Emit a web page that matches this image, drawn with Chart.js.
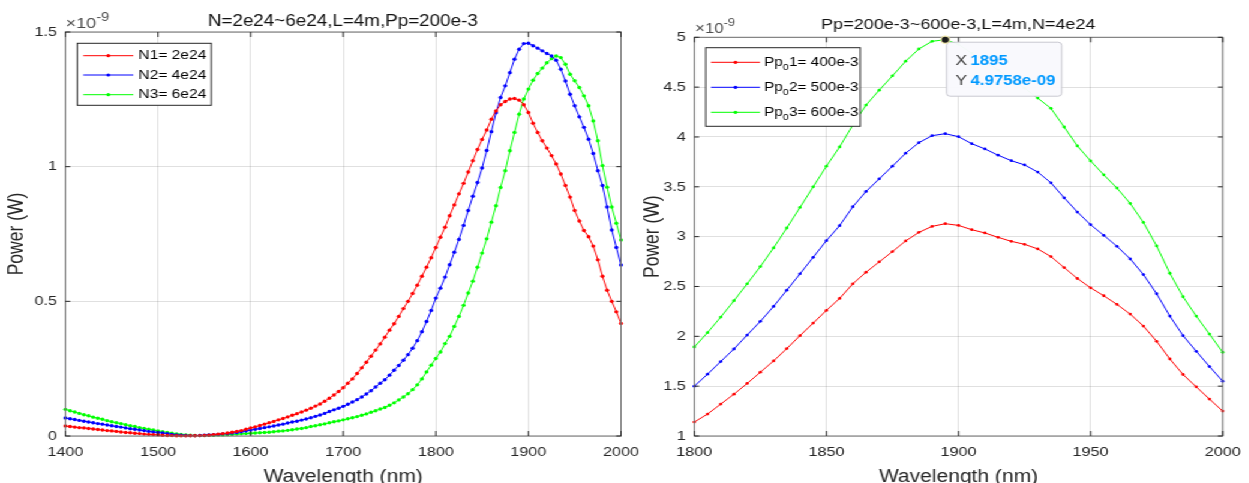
<!DOCTYPE html>
<html>
<head>
<meta charset="utf-8">
<title>Power vs wavelength</title>
<script src="https://cdn.jsdelivr.net/npm/chart.js@4"></script>
<style>
html, body { margin: 0; padding: 0; background: #fff; overflow: hidden; }
/* the source figure is stretched horizontally, so the charts are drawn narrow and widened */
#wrap { position: absolute; left: 0; top: 0; width: 1041px; height: 483px; transform: scaleX(1.2); transform-origin: 0 0; }
#c1 { position: absolute; left: 0; top: 0; }
#c2 { position: absolute; left: 533px; top: 0; }
</style>
</head>
<body>
<div id="wrap">
  <canvas id="c1" width="533" height="483"></canvas>
  <canvas id="c2" width="508" height="483"></canvas>
</div>
<script>
// left plot: wavelength (nm) and power (x1e-9 W)
const wl1 = [1400,1405,1410,1415,1420,1425,1430,1435,1440,1445,1450,1455,1460,1465,1470,1475,1480,1485,1490,1495,
  1500,1505,1510,1515,1520,1525,1530,1535,1540,1545,1550,1555,1560,1565,1570,1575,1580,1585,1590,1595,
  1600,1605,1610,1615,1620,1625,1630,1635,1640,1645,1650,1655,1660,1665,1670,1675,1680,1685,1690,1695,
  1700,1705,1710,1715,1720,1725,1730,1735,1740,1745,1750,1755,1760,1765,1770,1775,1780,1785,1790,1795,
  1800,1805,1810,1815,1820,1825,1830,1835,1840,1845,1850,1855,1860,1865,1870,1875,1880,1885,1890,1895,
  1900,1905,1910,1915,1920,1925,1930,1935,1940,1945,1950,1955,1960,1965,1970,1975,1980,1985,1990,1995,2000];

const powN1 = [.037,.035,.033,.031,.030,.028,.026,.024,.022,.020,.019,.017,.015,.013,.012,.010,.009,.007,.006,.005,
  .004,.003,.002,.0015,.001,.0006,.0005,.0007,.001,.0015,.002,.003,.005,.007,.009,.011,.014,.017,.020,.025,
  .030,.034,.039,.044,.049,.054,.060,.065,.071,.077,.083,.089,.096,.103,.111,.119,.129,.140,.152,.165,
  .179,.196,.212,.232,.253,.274,.296,.319,.342,.367,.393,.417,.444,.473,.500,.529,.560,.593,.627,.662,
  .700,.738,.775,.818,.858,.899,.938,.980,1.022,1.064,1.101,1.136,1.176,1.207,1.230,1.242,1.251,1.253,1.247,1.230,
  1.201,1.161,1.127,1.096,1.069,1.041,1.010,.973,.930,.887,.837,.798,.763,.740,.705,.654,.593,.541,.500,.461,.418];

const powN2 = [.067,.064,.061,.058,.055,.052,.049,.046,.044,.041,.038,.035,.033,.030,.027,.025,.022,.020,.017,.015,
  .013,.011,.009,.006,.004,.003,.002,.0015,.0015,.002,.003,.004,.005,.006,.008,.009,.011,.013,.016,.019,
  .022,.025,.028,.031,.034,.037,.041,.044,.048,.052,.055,.059,.063,.068,.073,.078,.084,.091,.097,.103,
  .110,.118,.126,.135,.145,.156,.168,.182,.196,.209,.226,.244,.262,.281,.302,.326,.354,.387,.425,.466,
  .512,.549,.590,.636,.682,.730,.782,.837,.890,.941,.995,1.060,1.130,1.200,1.257,1.300,1.349,1.399,1.436,1.457,
  1.458,1.449,1.440,1.430,1.420,1.411,1.395,1.362,1.318,1.269,1.226,1.185,1.146,1.102,1.049,.985,.930,.850,.765,.700,.635];

const powN3 = [.099,.094,.089,.084,.079,.075,.070,.066,.062,.057,.053,.049,.046,.042,.038,.035,.031,.028,.025,.022,
  .019,.016,.013,.010,.008,.006,.004,.003,.002,.002,.002,.003,.003,.004,.004,.005,.006,.007,.008,.009,
  .010,.011,.012,.013,.014,.016,.018,.019,.021,.023,.026,.028,.031,.035,.038,.042,.045,.049,.053,.056,
  .060,.064,.068,.072,.077,.082,.088,.094,.100,.106,.114,.123,.134,.145,.157,.172,.190,.212,.238,.263,
  .288,.312,.343,.370,.407,.444,.485,.531,.575,.627,.679,.732,.794,.855,.923,.985,1.059,1.127,1.195,1.251,
  1.288,1.321,1.346,1.366,1.386,1.401,1.411,1.405,1.380,1.343,1.319,1.294,1.263,1.226,1.170,1.096,1.004,.924,.850,.790,.728];

const legend1 = ['N1= 2e24', 'N2= 4e24', 'N3= 6e24'];
const xTicks1 = [1400, 2000, 100];
const yTicks1 = [0, 1.5, 0.5];

// right plot
const wl2 = [1800,1805,1810,1815,1820,1825,1830,1835,1840,1845,1850,1855,1860,1865,1870,1875,1880,1885,1890,1895,
  1900,1905,1910,1915,1920,1925,1930,1935,1940,1945,1950,1955,1960,1965,1970,1975,1980,1985,1990,1995,2000];

const powP1 = [1.14,1.22,1.32,1.42,1.527,1.64,1.753,1.877,2.007,2.133,2.26,2.38,2.527,2.643,2.747,2.85,2.957,3.043,3.103,3.13,
  3.113,3.07,3.037,2.993,2.953,2.923,2.877,2.8,2.69,2.58,2.487,2.407,2.32,2.223,2.103,1.95,1.773,1.617,1.493,1.37,1.25];

const powP2 = [1.5,1.62,1.747,1.873,2.013,2.15,2.3,2.463,2.627,2.793,2.96,3.11,3.3,3.453,3.58,3.707,3.837,3.943,4.013,4.033,
  4.003,3.933,3.88,3.817,3.762,3.72,3.648,3.54,3.39,3.247,3.12,3.013,2.903,2.777,2.62,2.427,2.203,2.007,1.85,1.697,1.55];

const powP3 = [1.893,2.037,2.193,2.357,2.527,2.7,2.887,3.087,3.293,3.5,3.707,3.9,4.12,4.32,4.47,4.613,4.76,4.883,4.96,4.9758,
  4.93,4.84,4.76,4.67,4.58,4.49,4.39,4.287,4.1,3.91,3.76,3.62,3.487,3.333,3.143,2.907,2.633,2.397,2.203,2.023,1.84];

const legend2 = ['Pp_01= 400e-3', 'Pp_02= 500e-3', 'Pp_03= 600e-3'];
const xTicks2 = [1800, 2000, 50];
const yTicks2 = [1, 5, 0.5];
const tipWl = 1895;

const FONT = '"Liberation Sans", Arial, Helvetica, sans-serif';
const colores = ['#ff0000', '#0000ff', '#00ff00'];
Chart.defaults.font.family = FONT;

function fnt(size, bold) {
    return (bold ? 'bold ' : '') + size + 'px ' + FONT;
}

// MATLAB style number for the datatip: 4.9758e-09
function formatoExp(v) {
    return v.toExponential(4).replace(/e([+-])(\d)$/, 'e$10$2');
}

// text with "_0" read as a subscript, like the TeX legend
function textoSub(ctx, txt, x, y, size) {
    const partes = txt.split('_');
    ctx.font = fnt(size);
    ctx.fillText(partes[0], x, y);
    x += ctx.measureText(partes[0]).width;
    if (partes.length > 1) {
        ctx.font = fnt(size * 0.72);
        ctx.fillText(partes[1][0], x, y + size * 0.38);
        x += ctx.measureText(partes[1][0]).width;
        ctx.font = fnt(size);
        ctx.fillText(partes[1].slice(1), x, y);
    }
}

const deco = {
    id: 'deco',
    afterDraw(chart, args, o) {
        const ctx = chart.ctx;
        const a = chart.chartArea;
        const sx = chart.scales.x, sy = chart.scales.y;
        ctx.save();

        // axes box with ticks pointing inwards
        ctx.strokeStyle = '#6e6e6e';
        ctx.lineWidth = 1;
        ctx.strokeRect(a.left, a.top, a.right - a.left, a.bottom - a.top);
        ctx.strokeStyle = '#262626';
        ctx.beginPath();
        sx.ticks.forEach(t => {
            const px = sx.getPixelForValue(t.value);
            ctx.moveTo(px, a.bottom); ctx.lineTo(px, a.bottom - 5);
            ctx.moveTo(px, a.top); ctx.lineTo(px, a.top + 5);
        });
        sy.ticks.forEach(t => {
            const py = sy.getPixelForValue(t.value);
            ctx.moveTo(a.left, py); ctx.lineTo(a.left + 4, py);
            ctx.moveTo(a.right, py); ctx.lineTo(a.right - 4, py);
        });
        ctx.stroke();

        // title
        ctx.fillStyle = '#111';
        ctx.font = fnt(o.titleSize);
        ctx.textAlign = 'center';
        ctx.textBaseline = 'alphabetic';
        ctx.fillText(o.title, o.titleX, o.titleY);

        // x10^-9 multiplier
        ctx.fillStyle = '#4d4d4d';
        ctx.textAlign = 'left';
        ctx.font = fnt(o.expSize);
        ctx.fillText('\u00d710', o.expX, o.expY);
        const w = ctx.measureText('\u00d710').width;
        ctx.font = fnt(o.expSize - 3);
        ctx.fillText('-9', o.expX + w, o.expY - 7);

        // axis labels
        ctx.fillStyle = '#262626';
        ctx.font = fnt(17.5);
        ctx.textAlign = 'center';
        ctx.fillText('Wavelength (nm)', (a.left + a.right) / 2, 482);
        ctx.save();
        ctx.translate(o.ylabelX, (a.top + a.bottom) / 2);
        ctx.rotate(-Math.PI / 2);
        ctx.textBaseline = 'middle';
        ctx.fillText('Power (W)', 0, 0);
        ctx.restore();

        // legend
        const L = o.legend;
        ctx.fillStyle = '#fff';
        ctx.fillRect(L.box[0], L.box[1], L.box[2] - L.box[0], L.box[3] - L.box[1]);
        ctx.strokeStyle = '#262626';
        ctx.lineWidth = 1;
        ctx.strokeRect(L.box[0], L.box[1], L.box[2] - L.box[0], L.box[3] - L.box[1]);
        ctx.textAlign = 'left';
        ctx.textBaseline = 'middle';
        L.rows.forEach((ry, i) => {
            ctx.strokeStyle = colores[i];
            ctx.beginPath();
            ctx.moveTo(L.x1, ry); ctx.lineTo(L.x2, ry);
            ctx.stroke();
            ctx.fillStyle = colores[i];
            ctx.beginPath();
            ctx.arc((L.x1 + L.x2) / 2, ry, 1.6, 0, Math.PI * 2);
            ctx.fill();
            ctx.fillStyle = '#000';
            textoSub(ctx, L.labels[i], L.tx, ry, L.size);
        });

        // datatip
        if (o.tip) {
            const T = o.tip;
            const px = sx.getPixelForValue(T.x), py = sy.getPixelForValue(T.y);
            ctx.fillStyle = 'rgba(249,249,253,0.97)';
            ctx.strokeStyle = '#c8c8d0';
            ctx.beginPath();
            ctx.roundRect(px + 1, py + 2.5, 96, 54, 3);
            ctx.fill();
            ctx.stroke();
            ctx.textBaseline = 'alphabetic';
            ctx.fillStyle = '#404040';
            ctx.font = fnt(14.5);
            ctx.fillText('X', px + 8.5, py + 25.5);
            ctx.fillText('Y', px + 8.5, py + 45.5);
            ctx.fillStyle = 'rgb(0,153,255)';
            ctx.font = fnt(14, true);
            ctx.fillText(String(T.x), px + 21, py + 25.5);
            ctx.fillText(formatoExp(T.y * 1e-9), px + 21, py + 45.5);
            ctx.fillStyle = '#1a1a1a';
            ctx.strokeStyle = '#f3eab0';
            ctx.lineWidth = 1.2;
            ctx.beginPath();
            ctx.arc(px, py, 3.6, 0, Math.PI * 2);
            ctx.fill();
            ctx.stroke();
        }
        ctx.restore();
    }
};

function crearGrafico(id, wl, series, xt, yt, yWidth, pad, radio, d) {
    const ctx = document.getElementById(id).getContext('2d');
    const datasets = series.map((vals, i) => ({
        data: wl.map((x, k) => ({ x: x, y: vals[k] })),
        borderColor: colores[i],
        backgroundColor: colores[i],
        borderWidth: 1,
        pointRadius: radio,
        pointBorderWidth: 0,
        pointBackgroundColor: colores[i],
        tension: 0,
        clip: 4
    }));
    return new Chart(ctx, {
        type: 'line',
        data: { datasets: datasets },
        options: {
            responsive: false,
            animation: false,
            events: [],
            layout: { padding: pad },
            plugins: { legend: { display: false }, tooltip: { enabled: false }, deco: d },
            scales: {
                x: {
                    type: 'linear', min: xt[0], max: xt[1],
                    // fixed plot box, no extra room for the end labels
                    afterFit: s => { s.height = 47; s.paddingLeft = 0; s.paddingRight = 0; },
                    ticks: { stepSize: xt[2], autoSkip: false, maxRotation: 0, padding: 8, color: '#262626', font: { size: 13.5 }, callback: v => String(v) },
                    grid: { color: 'rgba(38,38,38,0.14)', drawTicks: false },
                    border: { display: false }
                },
                y: {
                    min: yt[0], max: yt[1],
                    afterFit: s => { s.width = yWidth; s.paddingTop = 0; s.paddingBottom = 0; },
                    ticks: { stepSize: yt[2], padding: 7, color: '#262626', font: { size: 13.5 }, callback: v => String(v) },
                    grid: { color: 'rgba(38,38,38,0.14)', drawTicks: false },
                    border: { display: false }
                }
            }
        },
        plugins: [deco]
    });
}

crearGrafico('c1', wl1, [powN1, powN2, powN3], xTicks1, yTicks1, 54.5,
    { top: 32, right: 15.5, left: 0, bottom: 0 }, 1.7, {
        title: 'N=2e24~6e24,L=4m,Pp=200e-3', titleSize: 15.7, titleX: 285.7, titleY: 26,
        expX: 54.7, expY: 28, expSize: 15, ylabelX: 14.5,
        legend: { box: [64.4, 43.3, 176.1, 105.3], x1: 69.4, x2: 111.1, tx: 115.3, rows: [55.7, 75, 94.7], size: 13, labels: legend1 },
        tip: null
    });

const idxTip = wl2.indexOf(tipWl);
crearGrafico('c2', wl2, [powP1, powP2, powP3], xTicks2, yTicks2, 45.6,
    { top: 37.3, right: 22.1, left: 0, bottom: 0 }, 1.4, {
        title: 'Pp=200e-3~600e-3,L=4m,N=4e24', titleSize: 15, titleX: 265.6, titleY: 29.3,
        expX: 46.2, expY: 32.7, expSize: 14, ylabelX: 11,
        legend: { box: [55.1, 47.7, 183.9, 126.3], x1: 59.5, x2: 100.3, tx: 103.7, rows: [62.3, 87.3, 112.3], size: 12.8, labels: legend2 },
        tip: { x: tipWl, y: powP3[idxTip] }
    });
</script>
</body>
</html>
